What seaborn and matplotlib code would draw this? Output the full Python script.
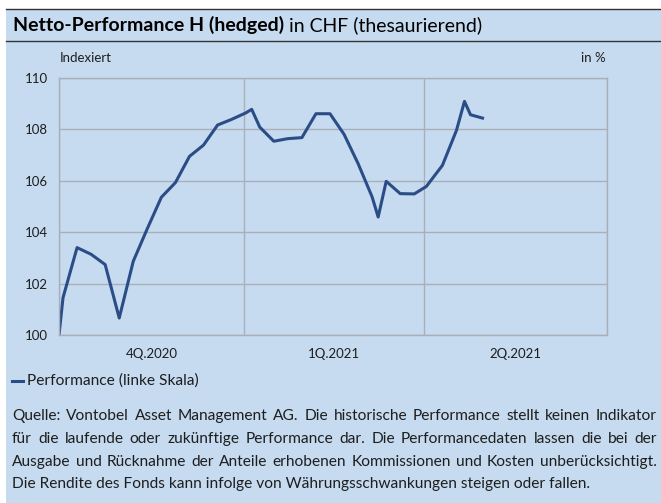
import pandas as pd
import seaborn as sns
import matplotlib.pyplot as plt
from matplotlib.patches import Rectangle
from matplotlib.lines import Line2D

# Daten
dates = ['2020-10-01', '2020-10-03', '2020-10-10', '2020-10-17', '2020-10-24', '2020-10-31',
         '2020-11-07', '2020-11-14', '2020-11-21', '2020-11-28', '2020-12-05', '2020-12-12',
         '2020-12-19', '2020-12-26', '2021-01-02', '2021-01-05', '2021-01-09', '2021-01-16',
         '2021-01-23', '2021-01-30', '2021-02-06', '2021-02-13', '2021-02-20', '2021-02-27',
         '2021-03-06', '2021-03-09', '2021-03-13', '2021-03-20', '2021-03-27', '2021-04-02',
         '2021-04-10', '2021-04-17', '2021-04-21', '2021-04-24', '2021-04-30']
performance = [100.0, 101.45, 103.4, 103.14, 102.74, 100.66,
               102.87, 104.14, 105.36, 105.93, 106.95, 107.39,
               108.17, 108.39, 108.64, 108.78, 108.09, 107.54,
               107.64, 107.68, 108.61, 108.61, 107.81, 106.67,
               105.37, 104.59, 105.98, 105.50, 105.49, 105.78,
               106.60, 107.96, 109.09, 108.57, 108.44]
quarter_bounds = ['2020-10-01', '2021-01-01', '2021-04-01', '2021-07-01']
quarter_labels = ['4Q.2020', '1Q.2021', '2Q.2021']
y_ticks = [100, 102, 104, 106, 108, 110]

title_bold = 'Netto-Performance H (hedged)'
title_rest = ' in CHF (thesaurierend)'
legend_label = 'Performance (linke Skala)'
note_lines = [
    'Quelle: Vontobel Asset Management AG. Die historische Performance stellt keinen Indikator',
    'für die laufende oder zukünftige Performance dar. Die Performancedaten lassen die bei der',
    'Ausgabe und Rücknahme der Anteile erhobenen Kommissionen und Kosten unberücksichtigt.',
    'Die Rendite des Fonds kann infolge von Währungsschwankungen steigen oder fallen.',
]

bg = '#c6dbf0'
line_col = '#2b4d86'
grid_col = '#a8afb9'
txt_col = '#1e1e1e'

plt.rcParams['font.family'] = ['Lato', 'DejaVu Sans']

W, H = 661, 503
fig = plt.figure(figsize=(W / 100, H / 100), dpi=100)
fig.patch.set_facecolor('white')
fig.patches.append(Rectangle((6 / W, 0), 1, 1 - 9 / H, transform=fig.transFigure,
                             facecolor=bg, edgecolor='none', zorder=-10))
for yy in (9, 41):
    fig.lines.append(Line2D([6 / W, 1], [1 - yy / H, 1 - yy / H], transform=fig.transFigure,
                            color='#333333', lw=1.0))

ax = fig.add_axes([59 / W, 1 - 335 / H, 548 / W, 257 / H])
ax.set_zorder(2)
ax.set_facecolor(bg)

df = pd.DataFrame({'Datum': pd.to_datetime(dates), 'Performance': performance})
sns.lineplot(data=df, x='Datum', y='Performance', ax=ax, color=line_col, lw=2.2)

qb = pd.to_datetime(quarter_bounds)
ax.set_xlim(qb[0], qb[-1])
ax.set_ylim(100, 110)
ax.set_yticks(y_ticks)
ax.set_xticks(qb)
ax.set_xticklabels([])
mids = [qb[i] + (qb[i + 1] - qb[i]) / 2 for i in range(len(quarter_labels))]
ax.set_xticks(mids, minor=True)
ax.set_xticklabels(quarter_labels, minor=True)
ax.tick_params(axis='both', which='both', length=0, labelsize=9.5, colors=txt_col)
ax.tick_params(axis='x', which='minor', pad=9)
ax.tick_params(axis='y', pad=8)
ax.grid(True, which='major', color=grid_col, lw=1.0)
ax.set_axisbelow(True)
for s in ax.spines.values():
    s.set_color(grid_col)
    s.set_linewidth(1.0)
ax.set_xlabel('')
ax.set_ylabel('')
if ax.get_legend():
    ax.get_legend().remove()

fig.text(60 / W, 1 - 58 / H, 'Indexiert', fontsize=9.5, color=txt_col, va='center', ha='left')
fig.text(606 / W, 1 - 58 / H, 'in %', fontsize=9.5, color=txt_col, va='center', ha='right')

renderer = fig.canvas.get_renderer()

# Titel
t1 = fig.text(13 / W, 1 - 25 / H, title_bold, fontsize=14, fontweight='bold',
              color='black', va='center', ha='left')
bb = t1.get_window_extent(renderer)
fig.text(bb.x1 / W, 1 - 25 / H, title_rest, fontsize=14, color='black', va='center', ha='left')

# Legende
fig.lines.append(Line2D([12 / W, 23 / W], [1 - 381 / H, 1 - 381 / H], transform=fig.transFigure,
                        color=line_col, lw=2.2))
fig.text(27 / W, 1 - 381 / H, legend_label, fontsize=11.2, color=txt_col, va='center', ha='left')

# Blocksatz-Fussnote
x0, x1 = 12, 657
ys = [416, 439, 462, 484]
for i, (line, yy) in enumerate(zip(note_lines, ys)):
    words = line.split(' ')
    if i == len(note_lines) - 1:
        fig.text(x0 / W, 1 - yy / H, line, fontsize=11.2, color=txt_col, va='center', ha='left')
        continue
    arts = [fig.text(0, 1 - yy / H, w, fontsize=11.2, color=txt_col, va='center', ha='left')
            for w in words]
    widths = [a.get_window_extent(renderer).width for a in arts]
    gap = ((x1 - x0) - sum(widths)) / (len(words) - 1)
    pos = x0
    for a, wd in zip(arts, widths):
        a.set_x(pos / W)
        pos += wd + gap

fig.savefig('out.png', dpi=100, facecolor=fig.get_facecolor())
